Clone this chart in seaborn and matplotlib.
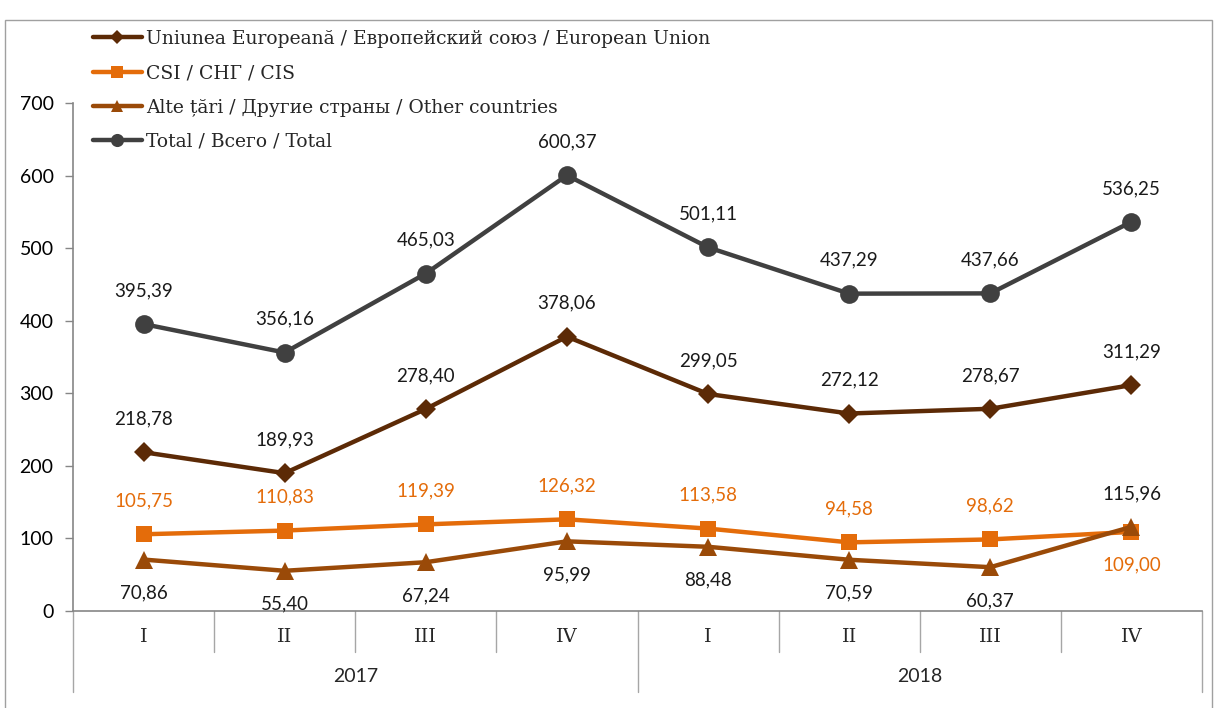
import numpy as np
import pandas as pd
import matplotlib
matplotlib.use("Agg")
import matplotlib.pyplot as plt
import matplotlib.patches as mpatches
import seaborn as sns

# data
quarters = ["I", "II", "III", "IV", "I", "II", "III", "IV"]
years = ["2017", "2018"]
quarters_per_year = 4

eu_label = "Uniunea Europeană / Европейский союз / European Union"
cis_label = "CSI / СНГ / CIS"
other_label = "Alte țări / Другие страны / Other countries"
total_label = "Total / Всего / Total"

eu_values = [218.78, 189.93, 278.40, 378.06, 299.05, 272.12, 278.67, 311.29]
cis_values = [105.75, 110.83, 119.39, 126.32, 113.58, 94.58, 98.62, 109.00]
other_values = [70.86, 55.40, 67.24, 95.99, 88.48, 70.59, 60.37, 115.96]
total_values = [395.39, 356.16, 465.03, 600.37, 501.11, 437.29, 437.66, 536.25]

y_ticks = [0, 100, 200, 300, 400, 500, 600, 700]


def fmt(v):
    return f"{v:.2f}".replace(".", ",")


sns.set_theme(style="white")
plt.rcParams["font.family"] = ["Lato", "DejaVu Sans"]
SERIF = ["DejaVu Serif"]

fig = plt.figure(figsize=(12.15, 7.08), dpi=100)
W, H = 1215, 708
ax = fig.add_axes([73 / W, 97 / H, (1202 - 73) / W, (611 - 103) / H])

pos = np.arange(len(quarters))
df = pd.DataFrame({
    "pos": pos,
    "eu": eu_values,
    "cis": cis_values,
    "other": other_values,
    "total": total_values,
})

series = [
    ("eu", eu_label, "#5C2A06", "D", 10, "k", [1] * 8),
    ("cis", cis_label, "#E46C0A", "s", 11.5, "#E46C0A", [1] * 7 + [-1]),
    ("other", other_label, "#9A4A08", "^", 13, "k", [-1] * 7 + [1]),
    ("total", total_label, "#404040", "o", 13.5, "k", [1] * 8),
]

for col, label, color, marker, ms, txtcol, dirs in series:
    sns.lineplot(data=df, x="pos", y=col, ax=ax, color=color, linewidth=3.2,
                 marker=marker, markersize=ms, markeredgecolor=color,
                 markeredgewidth=0, label=label)
    for x, v, d in zip(df["pos"], df[col], dirs):
        ax.annotate(fmt(v), (x, v), xytext=(0, 24 * d), textcoords="offset points",
                    ha="center", va="center", fontsize=13.5, color=txtcol)

ax.set_xlim(-0.5, len(quarters) - 0.5)
ax.set_ylim(0, 700)
ax.set_yticks(y_ticks)
ax.set_yticklabels([str(t) for t in y_ticks], fontsize=14, color="black")
ax.set_xticks([])
ax.set_xlabel("")
ax.set_ylabel("")
ax.tick_params(axis="y", length=6, width=1, color="#868686", pad=8, left=True)
for s in ["top", "right"]:
    ax.spines[s].set_visible(False)
for s in ["left", "bottom"]:
    ax.spines[s].set_color("#868686")
    ax.spines[s].set_linewidth(1.2)

# multi-level category axis
trans = ax.get_xaxis_transform()
px = 1 / (611 - 103)
short_len = 41 * px
long_len = 81 * px
for b in np.arange(-0.5, len(quarters), 1.0):
    is_long = (b + 0.5) % quarters_per_year == 0
    ln = long_len if is_long else short_len
    ax.plot([b, b], [0, -ln], transform=trans, color="#A6A6A6", lw=1, clip_on=False)
for x, q in zip(pos, quarters):
    ax.text(x, -26 * px, q, transform=trans, ha="center", va="center",
            fontsize=14, family=SERIF)
for i, yr in enumerate(years):
    xc = pos[i * quarters_per_year:(i + 1) * quarters_per_year].mean()
    ax.text(xc, -66 * px, yr, transform=trans, ha="center", va="center", fontsize=14)

# legend
leg = ax.legend(loc="upper left", bbox_to_anchor=(93 / W, 1 - 30 / H),
                bbox_transform=fig.transFigure, frameon=False, borderpad=0,
                borderaxespad=0, handlelength=2.6, handletextpad=0.25,
                labelspacing=0.87, markerscale=0.7,
                prop={"family": SERIF, "size": 13.5})

# outer chart frame
fig.patches.append(mpatches.Rectangle((5 / W, -0.05), (1212 - 5) / W, 1.05 - 20 / H,
                                      transform=fig.transFigure, fill=False,
                                      edgecolor="#A0A0A0", linewidth=1))

fig.savefig("out.png", dpi=100, facecolor="white")
